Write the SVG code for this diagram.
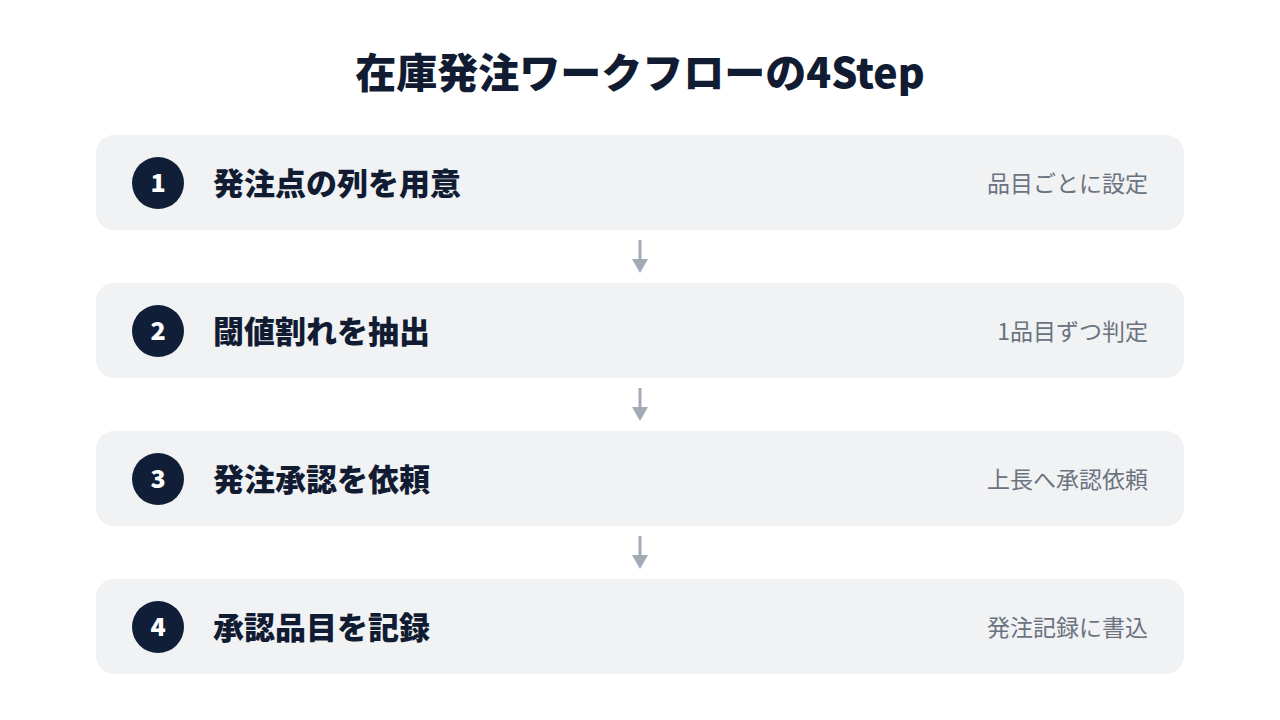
<svg xmlns="http://www.w3.org/2000/svg" width="1280" height="720" viewBox="0 0 1280 720">
<style>
.t{font-family:"Noto Sans CJK JP","Noto Sans",sans-serif;}
.title{font-size:41px;font-weight:900;fill:#111c33;}
.box{fill:#f1f2f4;}
.circ{fill:#111e38;}
.num{font-size:25px;font-weight:900;fill:#ffffff;}
.lbl{font-size:31px;font-weight:900;fill:#111c33;}
.sub{font-size:23px;font-weight:400;fill:#6b7280;}
.ar{stroke:#a3abb9;stroke-width:3;fill:none;}
.ah{fill:#a3abb9;}
</style>
<rect width="1280" height="720" fill="#ffffff"/>
<text class="t title" x="640" y="88" text-anchor="middle">在庫発注ワークフローの4Step</text>
<g id="step1">
<rect class="box" x="96" y="135" width="1088" height="95" rx="18"/>
<circle class="circ" cx="158" cy="183" r="26"/>
<text class="t num" x="158" y="192" text-anchor="middle">1</text>
<text class="t lbl" x="213" y="195">発注点の列を用意</text>
<text class="t sub" x="1148" y="192" text-anchor="end">品目ごとに設定</text>
</g>
<g id="step2">
<rect class="box" x="96" y="283" width="1088" height="95" rx="18"/>
<circle class="circ" cx="158" cy="331" r="26"/>
<text class="t num" x="158" y="340" text-anchor="middle">2</text>
<text class="t lbl" x="213" y="343">閾値割れを抽出</text>
<text class="t sub" x="1148" y="340" text-anchor="end">1品目ずつ判定</text>
</g>
<g id="step3">
<rect class="box" x="96" y="431" width="1088" height="95" rx="18"/>
<circle class="circ" cx="158" cy="479" r="26"/>
<text class="t num" x="158" y="488" text-anchor="middle">3</text>
<text class="t lbl" x="213" y="491">発注承認を依頼</text>
<text class="t sub" x="1148" y="488" text-anchor="end">上長へ承認依頼</text>
</g>
<g id="step4">
<rect class="box" x="96" y="579" width="1088" height="95" rx="18"/>
<circle class="circ" cx="158" cy="627" r="26"/>
<text class="t num" x="158" y="636" text-anchor="middle">4</text>
<text class="t lbl" x="213" y="639">承認品目を記録</text>
<text class="t sub" x="1148" y="636" text-anchor="end">発注記録に書込</text>
</g>
<g id="connectors">
<line class="ar" x1="640" y1="240" x2="640" y2="261"/>
<polygon class="ah" points="632,259 648,259 640,273"/>
<line class="ar" x1="640" y1="388" x2="640" y2="409"/>
<polygon class="ah" points="632,407 648,407 640,421"/>
<line class="ar" x1="640" y1="536" x2="640" y2="557"/>
<polygon class="ah" points="632,555 648,555 640,569"/>
</g>
</svg>
